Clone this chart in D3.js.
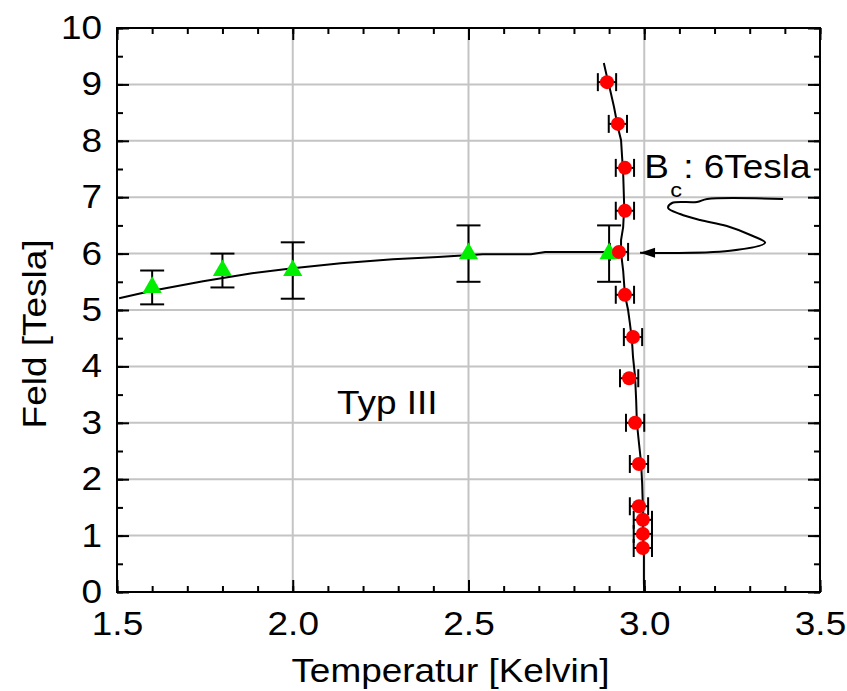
<!DOCTYPE html>
<html><head><meta charset="utf-8">
<script src="https://cdn.jsdelivr.net/npm/d3@7"></script>
<style>
body{margin:0;background:#fff}
svg text{font-family:"Liberation Sans",Arial,Helvetica,sans-serif;fill:#000}
</style>
</head><body>
<svg id="chart" width="847" height="691"></svg>
<script>
// ---- data ----
const xTicks = [1.5, 2.0, 2.5, 3.0, 3.5];
const yTicks = [0,1,2,3,4,5,6,7,8,9,10];
const xLabel = "Temperatur [Kelvin]";
const yLabel = "Feld [Tesla]";

// green triangles (vertical error bars)
const triT  = [1.6, 1.8, 2.0, 2.5, 2.9];
const triB  = [5.4, 5.7, 5.7, 6.0, 6.0];
const triLo = [5.1, 5.4, 5.2, 5.5, 5.5];
const triHi = [5.7, 6.0, 6.2, 6.5, 6.5];

// red dots (horizontal error bars)
const dotT = [2.894, 2.925, 2.945, 2.945, 2.928, 2.945, 2.968, 2.957, 2.974, 2.985, 2.985, 2.996, 2.996, 2.996];
const dotB = [9.04, 8.30, 7.52, 6.76, 6.03, 5.27, 4.52, 3.79, 3.00, 2.27, 1.52, 1.28, 1.03, 0.78];
const dotErr = [0.026,0.026,0.026,0.026,0.026,0.026,0.026,0.026,0.026,0.026,0.026,0.026,0.026,0.026];

// phase boundary: horizontal branch
const hLineT = [1.506, 1.60, 1.745, 1.884, 2.00, 2.137, 2.285, 2.413, 2.541, 2.678, 2.718, 2.934];
const hLineB = [5.21, 5.34, 5.51, 5.65, 5.74, 5.83, 5.90, 5.94, 5.99, 5.99, 6.03, 6.03];

// phase boundary: vertical branch
const vLineT = [2.885, 2.894, 2.903, 2.914, 2.925, 2.934, 2.937, 2.940, 2.943, 2.940, 2.934, 2.934, 2.940, 2.945, 2.954, 2.959, 2.965, 2.968, 2.974, 2.977, 2.979, 2.985, 2.991, 2.994, 2.996, 2.996, 2.999, 2.999, 3.000];
const vLineB = [9.38, 9.13, 8.90, 8.60, 8.24, 8.01, 7.71, 7.43, 6.83, 6.47, 6.24, 6.01, 5.70, 5.27, 5.00, 4.77, 4.47, 4.17, 3.81, 3.40, 3.00, 2.64, 2.29, 1.93, 1.51, 1.10, 0.62, 0.16, 0.00];

// annotation pointer (hand drawn), from arrow tip outward
const annT = [2.988, 3.244, 3.344, 3.309, 3.235, 3.159, 3.102, 3.068, 3.079, 3.150, 3.179, 3.395];
const annB = [6.016, 6.051, 6.193, 6.312, 6.489, 6.596, 6.702, 6.809, 6.897, 6.915, 6.968, 6.968];

const annoMain = "B";
const annoSub = "c";
const annoRest = ": 6Tesla";
const regionLabel = "Typ III";

// ---- layout ----
const W = 847, H = 691;
const m = {left:117, right:27, top:28, bottom:99};
const iw = W - m.left - m.right, ih = H - m.top - m.bottom;
const FS = 33, SX = 1.12;

const svg = d3.select("#chart");
const g = svg.append("g").attr("transform", `translate(${m.left},${m.top})`);

const x = d3.scaleLinear().domain([1.5, 3.5]).range([0, iw]);
const y = d3.scaleLinear().domain([0, 10]).range([ih, 0]);

const xMinor = d3.range(15, 36).map(d => d/10);
const yMinor = d3.range(0, 21).map(d => d/2);

// grid
g.append("g").selectAll("line").data(xTicks.slice(1,-1)).join("line")
  .attr("x1", d=>x(d)).attr("x2", d=>x(d)).attr("y1",0).attr("y2",ih)
  .attr("stroke","#c4c4c4").attr("stroke-width",2);
g.append("g").selectAll("line").data(yTicks.slice(1,-1)).join("line")
  .attr("y1", d=>y(d)).attr("y2", d=>y(d)).attr("x1",0).attr("x2",iw)
  .attr("stroke","#c4c4c4").attr("stroke-width",2);

// axes (ticks inside)
function styleAxis(sel){
  sel.select(".domain").remove();
  sel.selectAll(".tick line").attr("stroke","#000").attr("stroke-width",2);
}
g.append("g").attr("transform",`translate(0,${ih})`)
  .call(d3.axisBottom(x).tickValues(xMinor).tickSize(-6).tickFormat("")).call(styleAxis);
g.append("g")
  .call(d3.axisTop(x).tickValues(xMinor).tickSize(-6).tickFormat("")).call(styleAxis);
g.append("g")
  .call(d3.axisLeft(y).tickValues(yMinor).tickSize(-6).tickFormat("")).call(styleAxis);
g.append("g").attr("transform",`translate(${iw},0)`)
  .call(d3.axisRight(y).tickValues(yMinor).tickSize(-6).tickFormat("")).call(styleAxis);

const xa = g.append("g").attr("transform",`translate(0,${ih})`)
  .call(d3.axisBottom(x).tickValues(xTicks).tickSize(-12).tickPadding(20).tickFormat(d3.format(".1f"))).call(styleAxis);
g.append("g")
  .call(d3.axisTop(x).tickValues(xTicks).tickSize(-12).tickFormat("")).call(styleAxis);
const ya = g.append("g")
  .call(d3.axisLeft(y).tickValues(yTicks).tickSize(-12).tickPadding(15).tickFormat(d3.format("d"))).call(styleAxis);
g.append("g").attr("transform",`translate(${iw},0)`)
  .call(d3.axisRight(y).tickValues(yTicks).tickSize(-12).tickFormat("")).call(styleAxis);

xa.selectAll("text").attr("font-size",FS).attr("font-family",null)
  .attr("transform",`scale(${SX},1)`);
ya.selectAll("text").attr("font-size",FS).attr("font-family",null)
  .each(function(){ const t=d3.select(this); t.attr("x", +t.attr("x")/SX); })
  .attr("transform",`scale(${SX},1)`);

// frame
g.append("rect").attr("width",iw).attr("height",ih)
  .attr("fill","none").attr("stroke","#000").attr("stroke-width",2);

// axis titles
function txt(px, py, str, size, anchor, rot){
  return svg.append("text")
    .attr("transform", `translate(${px},${py}) ${rot?`rotate(${rot})`:""} scale(${SX},1)`)
    .attr("text-anchor", anchor).attr("font-size", size).text(str);
}
txt(m.left + iw/2 - 18, 682, xLabel, FS, "middle");
txt(46, 334, yLabel, FS, "middle", -90);

// phase lines
const line = d3.line().x(d=>x(d[0])).y(d=>y(d[1]));
g.append("path").datum(d3.zip(hLineT,hLineB)).attr("d",line)
  .attr("fill","none").attr("stroke","#000").attr("stroke-width",2);
g.append("path").datum(d3.zip(vLineT,vLineB)).attr("d",line)
  .attr("fill","none").attr("stroke","#000").attr("stroke-width",2);

// triangle error bars
const tri = d3.zip(triT,triB,triLo,triHi);
const eb = g.append("g").attr("stroke","#000").attr("stroke-width",2);
tri.forEach(([t,b,lo,hi])=>{
  eb.append("line").attr("x1",x(t)).attr("x2",x(t)).attr("y1",y(lo)).attr("y2",y(hi));
  eb.append("line").attr("x1",x(t)-12).attr("x2",x(t)+12).attr("y1",y(lo)).attr("y2",y(lo));
  eb.append("line").attr("x1",x(t)-12).attr("x2",x(t)+12).attr("y1",y(hi)).attr("y2",y(hi));
});
// dot error bars
const dots = d3.zip(dotT,dotB,dotErr);
dots.forEach(([t,b,e])=>{
  eb.append("line").attr("x1",x(t-e)).attr("x2",x(t+e)).attr("y1",y(b)).attr("y2",y(b));
  eb.append("line").attr("x1",x(t-e)).attr("x2",x(t-e)).attr("y1",y(b)-9).attr("y2",y(b)+9);
  eb.append("line").attr("x1",x(t+e)).attr("x2",x(t+e)).attr("y1",y(b)-9).attr("y2",y(b)+9);
});

// markers
g.append("g").selectAll("path").data(tri).join("path")
  .attr("transform", d=>`translate(${x(d[0])},${y(d[1])})`)
  .attr("d", d3.symbol(d3.symbolTriangle, 160))
  .attr("fill","#00ee00");
g.append("g").selectAll("circle").data(dots).join("circle")
  .attr("cx", d=>x(d[0])).attr("cy", d=>y(d[1])).attr("r",7)
  .attr("fill","#ff0000");

// annotation pointer
const ann = d3.zip(annT,annB);
g.append("path").datum(ann).attr("d", d3.line().x(d=>x(d[0])).y(d=>y(d[1])).curve(d3.curveCatmullRom))
  .attr("fill","none").attr("stroke","#000").attr("stroke-width",2);
const tip = [x(annT[0]), y(annB[0])];
g.append("path")
  .attr("d", `M${tip[0]},${tip[1]} l15,-5 l0,10 z`).attr("fill","#000");

// texts
const bx = x(3.0)+m.left, by = y(7.34)+m.top;
txt(bx, by, annoMain, FS, "start");
txt(bx+26, by+19, annoSub, 21, "start");
txt(bx+39, by, annoRest, FS, "start");
txt(337, y(3.15)+m.top, regionLabel, FS, "start");
</script>
</body></html>
